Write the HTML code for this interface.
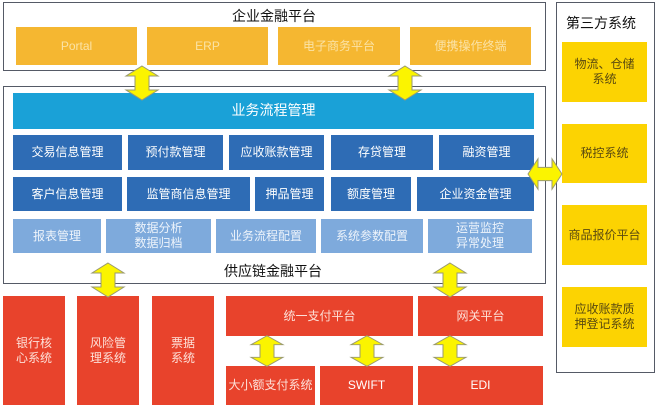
<!DOCTYPE html>
<html><head><meta charset="utf-8"><style>
body{margin:0;width:658px;height:408px;background:#fff;position:relative;overflow:hidden;font-family:"Liberation Sans","Noto Sans CJK SC",sans-serif}
.b{position:absolute;display:flex;align-items:center;justify-content:center;text-align:center;line-height:1.25;box-sizing:border-box}
.fr{position:absolute;border:1.5px solid #555a66;box-sizing:border-box;background:#fff}
.o{background:#f5b731;color:#fbe3a6;font-size:12px}
.db{background:#2e6cb5;color:#fff;font-size:12px}
.lb{background:#7eaadc;color:#eef4fb;font-size:12px}
.r{background:#e8432c;color:#fde0d8;font-size:12px}
.y{background:#fcd302;color:#5a4a10;font-size:12px}
.t{position:absolute;font-size:14px;color:#111}
svg{position:absolute;left:0;top:0}
</style></head><body>
<div class="fr" style="left:3px;top:2px;width:543px;height:69px"></div>
<div class="t" style="left:232px;top:6px">企业金融平台</div>
<div class="b o" style="left:16px;top:27px;width:121px;height:38px">Portal</div>
<div class="b o" style="left:147px;top:27px;width:121px;height:38px">ERP</div>
<div class="b o" style="left:278px;top:27px;width:122px;height:38px">电子商务平台</div>
<div class="b o" style="left:410px;top:27px;width:121px;height:38px">便携操作终端</div>

<div class="fr" style="left:3px;top:86px;width:543px;height:198px"></div>
<div class="b" style="left:13px;top:93px;width:521px;height:36px;background:#1aa1d7;color:#fff;font-size:14px">业务流程管理</div>
<div class="b db" style="left:13px;top:135px;width:109px;height:35px">交易信息管理</div>
<div class="b db" style="left:128px;top:135px;width:95px;height:35px">预付款管理</div>
<div class="b db" style="left:229px;top:135px;width:95px;height:35px">应收账款管理</div>
<div class="b db" style="left:331px;top:135px;width:102px;height:35px">存贷管理</div>
<div class="b db" style="left:439px;top:135px;width:95px;height:35px">融资管理</div>
<div class="b db" style="left:13px;top:177px;width:109px;height:34px">客户信息管理</div>
<div class="b db" style="left:127px;top:177px;width:123px;height:34px">监管商信息管理</div>
<div class="b db" style="left:255px;top:177px;width:69px;height:34px">押品管理</div>
<div class="b db" style="left:331px;top:177px;width:80px;height:34px">额度管理</div>
<div class="b db" style="left:417px;top:177px;width:117px;height:34px">企业资金管理</div>
<div class="b lb" style="left:13px;top:219px;width:88px;height:34px">报表管理</div>
<div class="b lb" style="left:106px;top:219px;width:105px;height:34px">数据分析<br>数据归档</div>
<div class="b lb" style="left:216px;top:219px;width:100px;height:34px">业务流程配置</div>
<div class="b lb" style="left:321px;top:219px;width:102px;height:34px">系统参数配置</div>
<div class="b lb" style="left:428px;top:219px;width:104px;height:34px">运营监控<br>异常处理</div>
<div class="t" style="left:224px;top:261px">供应链金融平台</div>

<div class="b r" style="left:3px;top:296px;width:62px;height:109px">银行核<br>心系统</div>
<div class="b r" style="left:77px;top:296px;width:62px;height:109px">风险管<br>理系统</div>
<div class="b r" style="left:152px;top:296px;width:62px;height:109px">票据<br>系统</div>
<div class="b r" style="left:226px;top:296px;width:187px;height:40px">统一支付平台</div>
<div class="b r" style="left:418px;top:296px;width:125px;height:40px">网关平台</div>
<div class="b r" style="left:226px;top:366px;width:89px;height:39px">大小额支付系统</div>
<div class="b r" style="left:320px;top:366px;width:93px;height:39px;color:#fff">SWIFT</div>
<div class="b r" style="left:418px;top:366px;width:125px;height:39px;color:#fff">EDI</div>

<div class="fr" style="left:556px;top:2px;width:99px;height:371px"></div>
<div class="t" style="left:566px;top:13px">第三方系统</div>
<div class="b y" style="left:562px;top:42px;width:85px;height:60px">物流、仓储<br>系统</div>
<div class="b y" style="left:562px;top:124px;width:85px;height:59px">税控系统</div>
<div class="b y" style="left:562px;top:205px;width:85px;height:60px">商品报价平台</div>
<div class="b y" style="left:562px;top:287px;width:85px;height:60px">应收账款质<br>押登记系统</div>

<svg width="658" height="408">
<defs><path id="va" d="M0,-17 L16,-7 L7,-7 L7,7 L16,7 L0,17 L-16,7 L-7,7 L-7,-7 L-16,-7 Z" fill="#fbf400" stroke="#9a9a70" stroke-width="1"/></defs>
<use href="#va" transform="translate(142,83)"/>
<use href="#va" transform="translate(405,83)"/>
<use href="#va" transform="translate(108,280)"/>
<use href="#va" transform="translate(450,280)"/>
<use href="#va" transform="translate(267,351) scale(1,0.9)"/>
<use href="#va" transform="translate(367,351) scale(1,0.9)"/>
<use href="#va" transform="translate(450,351) scale(1,0.9)"/>
<use href="#va" transform="translate(545,174) rotate(90) scale(0.95,1)"/>
</svg>
</body></html>
